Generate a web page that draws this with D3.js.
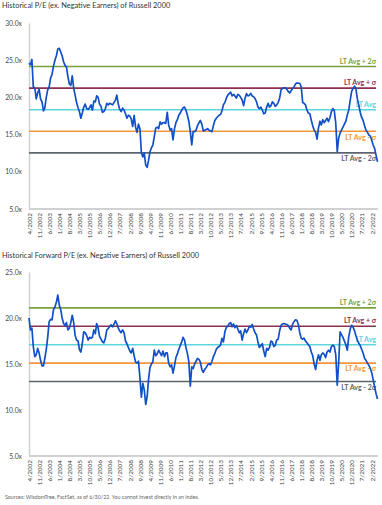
<!DOCTYPE html>
<html>
<head>
<meta charset="utf-8">
<script src="https://cdn.jsdelivr.net/npm/d3@7"></script>
<style>
  html, body { margin: 0; padding: 0; background: #ffffff; }
  svg { display: block; font-family: Lato, "Open Sans", sans-serif; }
</style>
</head>
<body>
<svg id="chart" width="382" height="505"></svg>
<script>
// ---------- DATA ----------
const startMonth = "4/2002";
const tickLabels = ["4/2002","11/2002","6/2003","1/2004","8/2004","3/2005","10/2005","5/2006","12/2006","7/2007","2/2008","9/2008","4/2009","11/2009","6/2010","1/2011","8/2011","3/2012","10/2012","5/2013","12/2013","7/2014","2/2015","9/2015","4/2016","11/2016","6/2017","1/2018","8/2018","3/2019","10/2019","5/2020","12/2020","7/2021","2/2022"];

// Historical P/E (ex. negative earners), monthly from 4/2002
const peValues = [
  24.6,24.4,25.1,21.4,21.3,19.8,20.6,21.1,19.8,19.4,
  18.2,18.6,20.0,21.0,21.4,22.6,23.1,24.2,25.0,25.6,
  26.5,26.6,26.1,25.6,24.8,24.3,24.1,22.8,21.8,21.6,
  22.9,21.2,20.3,19.3,18.6,18.1,17.2,17.9,18.7,19.1,
  18.5,18.4,18.6,19.0,18.3,19.5,19.4,20.2,20.0,19.1,
  18.8,18.0,18.1,18.5,19.2,19.0,19.2,19.1,19.0,19.3,
  19.6,20.3,19.1,18.4,18.1,18.55,18.3,17.8,17.2,17.6,
  17.5,17.1,16.1,17.6,16.0,15.3,16.4,15.8,12.6,12.0,
  12.5,10.9,10.6,11.5,12.7,13.2,13.6,14.7,15.9,16.0,
  15.8,16.7,16.4,16.6,16.6,16.5,18.0,16.3,15.6,15.8,
  14.3,15.8,16.6,17.0,17.6,17.9,18.3,18.6,18.7,18.3,
  17.6,16.8,15.4,13.6,15.4,15.4,15.6,16.2,16.6,16.9,
  16.4,15.5,15.6,15.7,15.8,15.6,15.5,15.4,16.2,16.9,
  17.2,17.4,17.6,17.7,18.2,19.0,19.3,19.9,20.3,20.5,
  20.7,20.2,20.4,20.2,19.9,20.4,20.3,20.0,19.65,18.9,
  19.9,20.5,20.2,20.3,20.55,20.2,20.1,19.85,19.4,18.7,
  18.5,18.7,18.3,17.8,17.9,18.7,19.2,18.7,18.9,19.4,
  19.2,18.8,19.0,19.3,19.9,21.0,21.2,21.3,21.3,21.1,
  20.8,20.6,20.9,21.2,21.4,21.8,21.95,21.9,21.9,21.4,
  19.3,19.2,19.0,18.3,17.9,17.8,16.95,16.2,15.6,15.3,
  14.4,15.9,16.8,16.3,17.0,16.6,16.9,17.2,16.75,17.3,
  18.1,18.5,18.2,16.5,12.7,14.5,15.2,15.6,16.0,16.4,
  16.8,17.65,18.3,19.6,20.8,21.2,21.5,21.2,19.8,19.0,
  18.0,17.3,16.9,16.2,15.6,15.3,14.95,14.8,14.2,13.6,
  13.15,12.25,11.35
];

// Historical Forward P/E (ex. negative earners), monthly from 4/2002
const fwdPeValues = [
  20.0,18.7,18.9,16.9,15.8,16.0,16.7,16.2,15.4,14.8,
  14.8,15.6,16.6,17.9,19.6,19.85,19.8,20.9,21.2,21.7,
  22.5,21.4,20.9,20.0,19.4,19.2,19.5,18.7,18.9,19.5,
  20.3,19.5,18.1,17.6,17.5,16.6,16.3,17.2,18.5,18.4,
  18.1,17.6,17.9,17.8,17.9,18.7,18.3,19.4,18.9,18.0,
  17.7,17.4,17.3,17.8,18.7,18.85,19.1,19.25,19.05,19.3,
  19.7,19.4,18.9,18.6,18.4,18.7,18.4,17.5,17.2,16.8,
  16.4,16.2,16.7,15.9,15.2,15.1,15.3,13.5,11.4,12.9,
  12.2,10.6,11.5,13.3,14.6,15.0,15.25,16.5,15.9,16.1,
  16.5,16.2,15.9,16.4,15.8,16.2,16.2,15.1,14.7,14.9,
  14.0,14.8,15.7,16.1,16.6,17.0,17.4,17.9,17.6,16.8,
  16.15,15.25,12.6,14.7,14.5,15.0,15.3,15.6,15.5,15.2,
  14.4,14.1,14.4,14.6,14.9,15.05,14.9,15.3,15.8,16.15,
  16.6,16.8,16.9,17.05,17.8,17.4,18.5,19.0,19.1,19.4,
  19.5,19.05,19.35,18.95,19.2,18.8,18.4,18.6,17.6,18.3,
  18.8,18.4,18.7,19.1,19.0,19.3,18.8,18.4,18.15,17.4,
  16.8,17.0,17.2,16.4,15.8,16.7,16.5,16.8,17.5,17.4,
  16.9,17.05,17.6,17.7,18.6,19.2,19.35,19.4,19.35,19.3,
  19.2,18.9,18.7,19.3,19.6,19.8,19.75,19.3,18.4,17.8,
  17.7,17.8,17.5,17.3,17.1,16.9,16.3,15.9,15.0,14.4,
  15.4,16.0,15.4,16.0,16.2,16.05,15.7,16.3,16.5,16.3,
  16.9,17.05,16.9,16.0,12.7,15.0,18.5,18.2,17.9,17.5,
  17.1,16.5,17.95,18.8,19.2,19.0,18.6,18.1,17.6,17.25,
  17.0,16.6,16.2,15.6,15.4,15.1,14.85,14.5,14.0,13.3,
  12.5,11.8,11.2
];

const refNames = ["LT Avg + 2\u03c3", "LT Avg + \u03c3", "LT Avg", "LT Avg - \u03c3", "LT Avg - 2\u03c3"];
const refColors = ["#7ba13f", "#8c2f52", "#5fd3de", "#f6953c", "#5d646c"];
const peRefLevels = [24.15, 21.25, 18.35, 15.45, 12.55];
const fwdRefLevels = [21.1, 19.1, 17.1, 15.1, 13.1];
const peYTicks = [5, 10, 15, 20, 25, 30];
const fwdYTicks = [5, 10, 15, 20, 25];

const titles = [
  "Historical P/E (ex. Negative Earners) of Russell 2000",
  "Historical Forward P/E (ex. Negative Earners) of Russell 2000"
];
const sourceText = "Sources: WisdomTree, FactSet, as of 6/30/22. You cannot invest directly in an index.";

// ---------- DRAW ----------
const svg = d3.select("#chart");
const parseM = d3.timeParse("%m/%Y");
const start = parseM(startMonth);

function monthsFrom(values) {
  return values.map((v, i) => ({ date: d3.timeMonth.offset(start, i), value: v }));
}

function drawChart(opts) {
  const { values, refs, yTicks, yDomain, top, bottom, titleY, title } = opts;
  const data = monthsFrom(values);
  const x = d3.scaleTime()
    .domain([start, data[data.length - 1].date])
    .range([29, 377.5]);
  const y = d3.scaleLinear().domain(yDomain).range([bottom, top]);
  const g = svg.append("g");

  g.append("text")
    .attr("x", 2).attr("y", titleY)
    .attr("font-size", 7.4).attr("fill", "#333")
    .text(title);

  // axes
  const yAxis = d3.axisLeft(y).tickValues(yTicks)
    .tickFormat(d => d.toFixed(1) + "x").tickSize(0).tickPadding(7);
  const ya = g.append("g").attr("transform", "translate(29,0)").call(yAxis);
  ya.select(".domain").attr("stroke", "#cfd1d3").attr("stroke-width", 1.5);
  ya.selectAll("text").attr("font-size", 6.8).attr("fill", "#4a4a4a")
    .attr("font-family", "Lato, sans-serif");

  const xAxis = d3.axisBottom(x).tickValues(tickLabels.map(parseM))
    .tickFormat((d, i) => tickLabels[i]).tickSize(0).tickPadding(0);
  const xa = g.append("g").attr("transform", `translate(0,${bottom})`).call(xAxis);
  xa.select(".domain").attr("stroke", "#cfd1d3").attr("stroke-width", 2)
    .attr("d", `M29,0H378`);
  xa.selectAll("text")
    .attr("font-size", 6.4).attr("fill", "#3a3a3a")
    .attr("font-family", "Lato, sans-serif")
    .attr("text-anchor", "end")
    .attr("transform", "rotate(-90)")
    .attr("x", -4).attr("y", 0).attr("dy", "0.35em");

  // reference lines
  refs.forEach((lvl, i) => {
    g.append("line")
      .attr("x1", 29).attr("x2", 376)
      .attr("y1", y(lvl)).attr("y2", y(lvl))
      .attr("stroke", refColors[i]).attr("stroke-width", 1.6);
    g.append("text")
      .attr("x", 376)
      .attr("y", i < 3 ? y(lvl) - 3 : y(lvl) + 8.3)
      .attr("text-anchor", "end")
      .attr("font-size", 7).attr("font-weight", 700)
      .attr("fill", refColors[i])
      .text(refNames[i]);
  });

  const line = d3.line().x(d => x(d.date)).y(d => y(d.value));
  g.append("path").datum(data)
    .attr("fill", "none").attr("stroke", "#1150c6")
    .attr("stroke-width", 1.7).attr("stroke-linejoin", "round")
    .attr("d", line);
}

drawChart({ values: peValues, refs: peRefLevels, yTicks: peYTicks, yDomain: [5, 30],
  top: 23, bottom: 209, titleY: 7.6, title: titles[0] });
drawChart({ values: fwdPeValues, refs: fwdRefLevels, yTicks: fwdYTicks, yDomain: [5, 25],
  top: 272, bottom: 456, titleY: 257.5, title: titles[1] });

svg.append("text")
  .attr("x", 5).attr("y", 499)
  .attr("font-size", 5.3).attr("fill", "#666")
  .text(sourceText);
</script>
</body>
</html>
